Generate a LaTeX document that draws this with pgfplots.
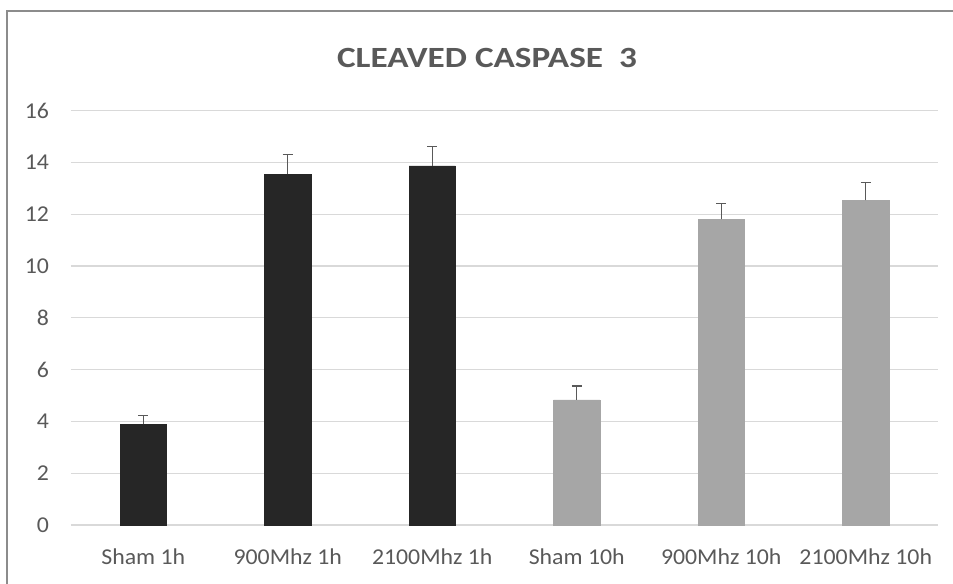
\documentclass[border=0pt]{standalone}
\usepackage{pgfplots}
\pgfplotsset{compat=1.18}
\usepackage{fontspec}
\setmainfont{Carlito}[FakeStretch=1.05]
\newfontfamily\titlefont{Carlito}[FakeStretch=1.2]
\definecolor{txt}{RGB}{89,89,89}
\definecolor{gridc}{RGB}{217,217,217}
\definecolor{darkbar}{RGB}{38,38,38}
\definecolor{lightbar}{RGB}{166,166,166}
\definecolor{framec}{RGB}{140,140,140}
\begin{document}
\begin{tikzpicture}
\path[use as bounding box] (-53.25pt,-43.5pt) rectangle (661.5pt,393.75pt);
\draw[framec, line width=1.3pt] (-48pt,-44pt) -- (-48pt,385.5pt) -- (662pt,385.5pt);
\begin{axis}[
    scale only axis,
    width=650.25pt, height=310.7pt,
    ybar, bar shift=0pt, bar width=0.32,
    xmin=-0.5, xmax=5.5, ymin=0, ymax=16,
    ytick={0,2,...,16},
    xtick={0,1,2,3,4,5},
    xticklabels={Sham 1h, 900Mhz 1h, 2100Mhz 1h, Sham 10h, 900Mhz 10h, 2100Mhz 10h},
    ymajorgrids, grid style={gridc, line width=0.9pt},
    axis x line*=bottom, axis y line*=left,
    x axis line style={gridc, line width=0.9pt, -},
    y axis line style={draw=none},
    major tick length=0pt,
    tick label style={font=\fontsize{17}{20}\selectfont, text=txt},
    /pgf/number format/assume math mode=true,
    yticklabel style={xshift=-13pt},
    xticklabel style={yshift=-14pt},
    error bars/y dir=plus, error bars/y explicit,
    error bars/error bar style={txt, line width=1.1pt},
    error bars/error mark options={rotate=90, mark size=3.75pt, line width=1.1pt, txt},
  ]
  \addplot[fill=darkbar, draw=darkbar] coordinates {
    (0, 3.89) +- (0, 0.33)
    (1, 13.54) +- (0, 0.77)
    (2, 13.87) +- (0, 0.74)
  };
  \addplot[fill=lightbar, draw=lightbar] coordinates {
    (3, 4.83) +- (0, 0.54)
    (4, 11.80) +- (0, 0.61)
    (5, 12.54) +- (0, 0.69)
  };
\end{axis}
\node[text=txt, font=\titlefont\bfseries\fontsize{22}{26}\selectfont] at (312pt,350pt) {CLEAVED CASPASE\ \ 3};
\end{tikzpicture}
\end{document}
